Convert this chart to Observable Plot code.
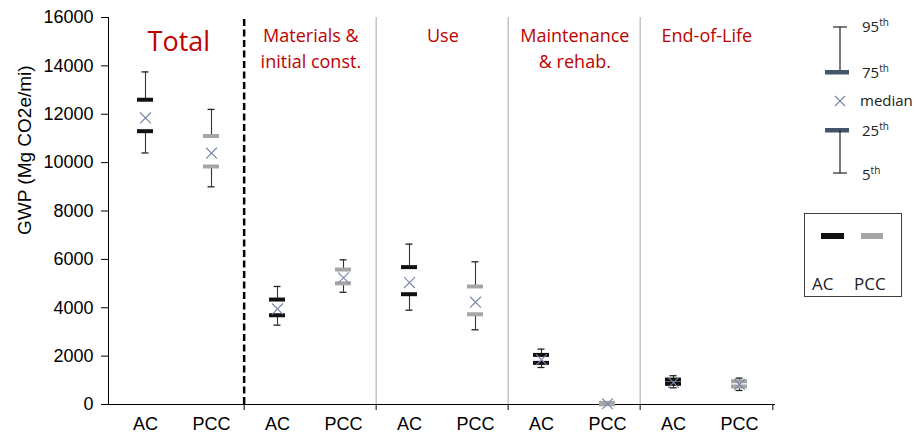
<!DOCTYPE html>
<html>
<head>
<meta charset="utf-8">
<script src="https://cdn.jsdelivr.net/npm/d3@7"></script>
<script src="https://cdn.jsdelivr.net/npm/@observablehq/plot@0.6"></script>
<style>
  html, body { margin: 0; padding: 0; background: #fff; }
  #wrap { position: relative; width: 919px; height: 439px; }
  #legend { position: absolute; left: 0; top: 0; }
  .lg { font-family: "Open Sans", sans-serif; font-size: 15px; fill: #222; }
</style>
</head>
<body>
<div id="wrap"></div>
<script>
// ---- data ----
const groups = ["Total", "Materials & initial const.", "Use", "Maintenance & rehab.", "End-of-Life"];
const headers = ["Total", "Materials &\ninitial const.", "Use", "Maintenance\n& rehab.", "End-of-Life"];
const pavements = ["AC", "PCC"];
// order: group-major, AC then PCC
const p5     = [10400,  9000, 3280, 4640, 3900, 3090, 1530,  0,  690,  580];
const p25    = [11300,  9840, 3690, 5010, 4560, 3730, 1720, 10,  855,  745];
const median = [11850, 10390, 3950, 5240, 5040, 4230, 1850, 30,  910,  830];
const p75    = [12600, 11100, 4340, 5580, 5680, 4880, 2050, 70, 1030,  960];
const p95    = [13750, 12200, 4880, 5980, 6630, 5900, 2290, 90, 1190, 1090];
const yTicks = [0, 2000, 4000, 6000, 8000, 10000, 12000, 14000, 16000];
const yLabel = "GWP (Mg CO2e/mi)";

const rows = groups.flatMap((g, i) => pavements.map((p, j) => {
  const k = 2 * i + j;
  return {key: g + "|" + p, group: g, pav: p, p5: p5[k], p25: p25[k], median: median[k], p75: p75[k], p95: p95[k]};
}));
const keys = rows.map(d => d.key);
const acKeys = rows.filter(d => d.pav === "AC").map(d => d.key);
const headerRows = groups.map((g, i) => ({key: g + "|AC", text: headers[i]}));

const W = 919, H = 439, mL = 108, mR = 144, mT = 17, mB = 35;
const bw = (W - mL - mR) / keys.length;

const chart = Plot.plot({
  width: W, height: H,
  marginLeft: mL, marginRight: mR, marginTop: mT, marginBottom: mB,
  style: {fontFamily: "'Liberation Sans', Arial, sans-serif", background: "white"},
  x: {type: "band", domain: keys, padding: 0},
  y: {domain: [0, 16000]},
  color: {domain: pavements, range: ["#111111", "#a6a6a6"]},
  marks: [
    // dividers
    Plot.ruleX([acKeys[1]], {dx: -bw / 2, y1: 0, y2: 16000, stroke: "#000", strokeWidth: 2.5, strokeDasharray: "7,3.5"}),
    Plot.ruleX(acKeys.slice(2), {dx: -bw / 2, y1: 0, y2: 16000, stroke: "#a6a6a6", strokeWidth: 1}),
    // axes
    Plot.axisY({ticks: yTicks, tickFormat: d => String(d), tickSize: 7, tickPadding: 8, fontSize: 18, label: null, color: "#000"}),
    Plot.axisX({tickSize: 0, tickPadding: 13, fontSize: 18, label: null, tickFormat: k => k.split("|")[1]}),
    Plot.axisX({ticks: acKeys.slice(1), dx: -bw / 2, tickSize: 6, tickFormat: () => "", label: null}),
    Plot.axisX({ticks: [keys[keys.length - 1]], dx: bw / 2, tickSize: 6, tickFormat: () => "", label: null}),
    Plot.frame({anchor: "left", stroke: "#000"}),
    Plot.ruleY([0], {stroke: "#000"}),
    Plot.text([yLabel], {frameAnchor: "left", rotate: -90, dx: -84, dy: 24, fontSize: 19, fill: "#000"}),
    // whiskers
    Plot.ruleX(rows, {x: "key", y1: "p75", y2: "p95", stroke: "#333", strokeWidth: 1.1}),
    Plot.ruleX(rows, {x: "key", y1: "p5", y2: "p25", stroke: "#333", strokeWidth: 1.1}),
    Plot.tickY(rows, {x: "key", y: "p95", stroke: "#222", strokeWidth: 1.3, insetLeft: 29.5, insetRight: 29.5}),
    Plot.tickY(rows, {x: "key", y: "p5", stroke: "#222", strokeWidth: 1.3, insetLeft: 29.5, insetRight: 29.5}),
    // quartile bars
    Plot.tickY(rows, {x: "key", y: "p75", stroke: "pav", strokeWidth: 4, insetLeft: 25, insetRight: 25}),
    Plot.tickY(rows, {x: "key", y: "p25", stroke: "pav", strokeWidth: 4, insetLeft: 25, insetRight: 25}),
    // median
    Plot.dot(rows, {x: "key", y: "median", symbol: "times", r: 5, stroke: "#7a88a6", strokeWidth: 1.2}),
    // headers
    Plot.text(headerRows.slice(0, 1), {x: "key", dx: bw / 2, frameAnchor: "top", lineAnchor: "middle", dy: 25, text: "text",
      fill: "#c00000", fontSize: 27, fontFamily: "'Open Sans', sans-serif"}),
    Plot.text(headerRows.slice(1), {x: "key", dx: bw / 2, frameAnchor: "top", lineAnchor: "top", dy: 7, text: "text",
      fill: "#c00000", fontSize: 18, lineHeight: 1.4, fontFamily: "'Open Sans', sans-serif"})
  ]
});
document.getElementById("wrap").appendChild(chart);

// legend (drawn as a small SVG overlay in the right margin)
const lg = d3.select("#wrap").append("svg").attr("id", "legend").attr("width", W).attr("height", H)
  .style("pointer-events", "none");
const slate = "#44546a";
// upper whisker
lg.append("line").attr("x1", 840).attr("x2", 840).attr("y1", 27).attr("y2", 72).attr("stroke", "#222").attr("stroke-width", 1.2);
lg.append("line").attr("x1", 833).attr("x2", 847).attr("y1", 27).attr("y2", 27).attr("stroke", "#222").attr("stroke-width", 1.2);
lg.append("rect").attr("x", 825).attr("y", 70).attr("width", 24).attr("height", 4.5).attr("fill", slate);
// median
lg.append("path").attr("d", "M835,96L845,106M845,96L835,106").attr("stroke", "#7a88a6").attr("stroke-width", 1.2);
// lower whisker
lg.append("rect").attr("x", 825).attr("y", 128).attr("width", 24).attr("height", 4.5).attr("fill", slate);
lg.append("line").attr("x1", 840).attr("x2", 840).attr("y1", 130).attr("y2", 173).attr("stroke", "#222").attr("stroke-width", 1.2);
lg.append("line").attr("x1", 833).attr("x2", 847).attr("y1", 173).attr("y2", 173).attr("stroke", "#222").attr("stroke-width", 1.2);
const pct = [["95", 32], ["75", 78], ["25", 136], ["5", 180]];
pct.forEach(([n, y]) => {
  const t = lg.append("text").attr("class", "lg").attr("x", 862).attr("y", y);
  t.append("tspan").text(n);
  t.append("tspan").style("font-size", "10px").attr("dy", -6).text("th");
});
lg.append("text").attr("class", "lg").attr("x", 860).attr("y", 106).text("median");
// AC / PCC box
lg.append("rect").attr("x", 804.5).attr("y", 213.5).attr("width", 97).attr("height", 83).attr("fill", "none").attr("stroke", "#404040").attr("stroke-width", 1);
lg.append("rect").attr("x", 821).attr("y", 233).attr("width", 23).attr("height", 6).attr("fill", "#111");
lg.append("rect").attr("x", 861).attr("y", 233).attr("width", 22).attr("height", 6).attr("fill", "#a6a6a6");
lg.append("text").attr("class", "lg").attr("x", 812).attr("y", 290).style("font-size", "17px").text("AC");
lg.append("text").attr("class", "lg").attr("x", 854).attr("y", 290).style("font-size", "17px").text("PCC");
</script>
</body>
</html>
